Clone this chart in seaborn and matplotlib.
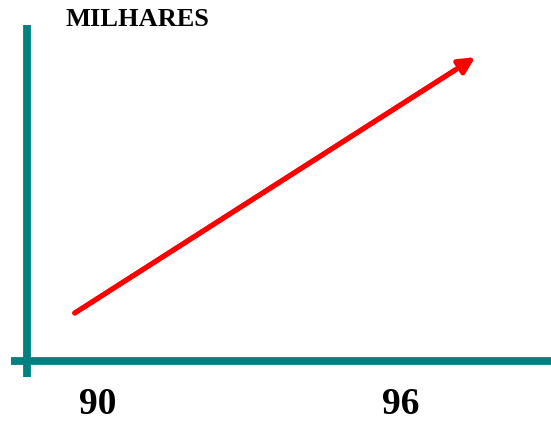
"""
Growth arrow chart: MILHARES, 90 -> 96
"""
import matplotlib
matplotlib.use("Agg")
import matplotlib.pyplot as plt
import seaborn as sns
import pandas as pd

# ─ Data ─────────────────────────────────────────────────────────────────── #
years       = [89.54, 97.47]        # start / end of the trend arrow
values      = [10.0, 63.3]          # milhares (arbitrary scale)
tick_years  = [90, 96]
tick_labels = ["90", "96"]
y_title     = "MILHARES"

TEAL = "#008080"
RED  = "#FF0000"

# ─ Set up ───────────────────────────────────────────────────────────────── #
sns.set_theme(style="white")
plt.rcParams["font.family"] = ["Liberation Serif", "DejaVu Serif"]

W, H = 551, 426
fig = plt.figure(figsize=(W / 100, H / 100), dpi=100)
# axes: full width, bottom on the horizontal axis line (pixel row 361)
ax = fig.add_axes([0, (H - 361) / H, 1, 361 / H])

px_per_year = 50.5
px_per_unit = 4.8
ax.set_xlim(90 - 98 / px_per_year, 90 + (W - 98) / px_per_year)
ax.set_ylim(0, 361 / px_per_unit)
for s in ax.spines.values():
    s.set_visible(False)
ax.set_facecolor("white")

# ─ Axis lines ───────────────────────────────────────────────────────────── #
x_left = 90 - 71 / px_per_year
ax.plot([x_left, x_left], [(361 - 25) / px_per_unit, (361 - 377) / px_per_unit],
        color=TEAL, lw=5.6, solid_capstyle="butt", clip_on=False)
ax.plot([90 - 87 / px_per_year, ax.get_xlim()[1]], [0, 0],
        color=TEAL, lw=5.6, solid_capstyle="butt", clip_on=False)

# ─ Trend arrow ──────────────────────────────────────────────────────────── #
# shaft stops short of the tip so the head stays pointed
f = 0.95
df = pd.DataFrame({
    "ano": [years[0], years[0] + f * (years[1] - years[0])],
    "milhares": [values[0], values[0] + f * (values[1] - values[0])],
})
sns.lineplot(data=df, x="ano", y="milhares", color=RED, lw=3.6, ax=ax)
ax.annotate("", xy=(years[1], values[1]), xytext=(years[0], values[0]),
            arrowprops=dict(arrowstyle="-|>", color=RED, lw=3.6,
                            mutation_scale=24, shrinkA=0, shrinkB=0))

# ─ Text ─────────────────────────────────────────────────────────────────── #
ax.set_xticks(tick_years)
ax.set_xticklabels(tick_labels, fontsize=27, fontweight="bold", color="black")
ax.tick_params(axis="x", length=0, pad=19)
ax.set_yticks([])
ax.set_xlabel("")
ax.set_ylabel("")

fig.text(65 / W, 1 - 20 / H, y_title, fontsize=19, fontweight="bold",
         color="black", ha="left", va="center")

fig.savefig("out.png", dpi=100, facecolor="white")
plt.close(fig)
